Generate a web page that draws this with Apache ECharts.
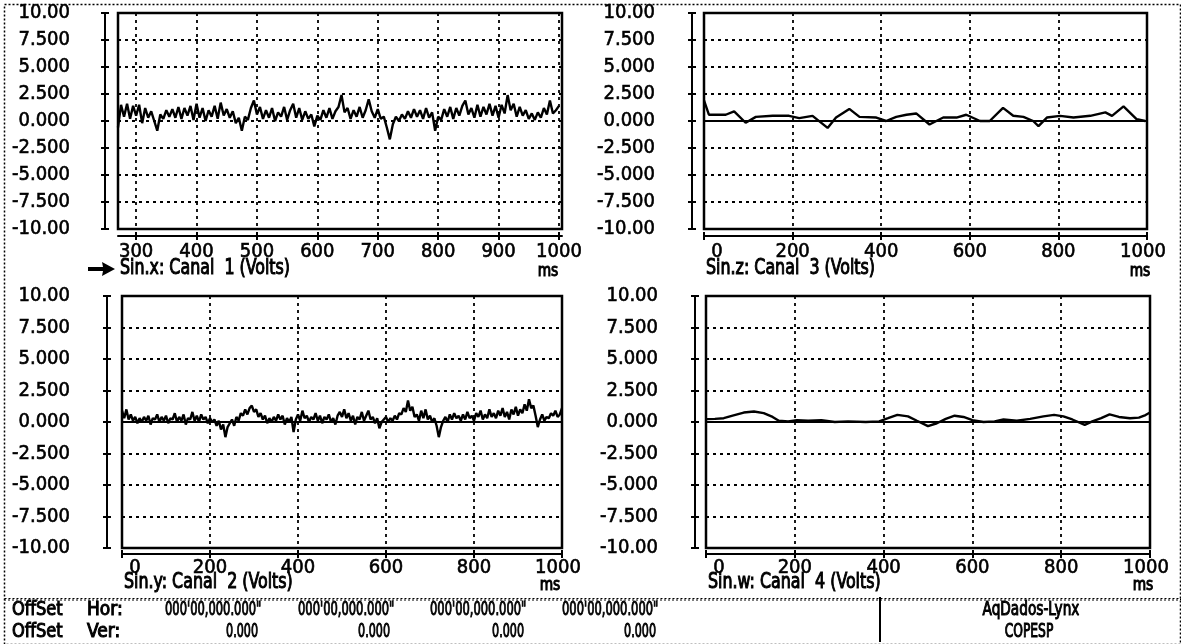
<!DOCTYPE html>
<html>
<head>
<meta charset="utf-8">
<script src="https://cdn.jsdelivr.net/npm/echarts@6/dist/echarts.min.js"></script>
<style>
  html, body { margin: 0; padding: 0; background: #fff; }
  #chart { width: 1181px; height: 644px; }
</style>
</head>
<body>
<div id="chart"></div>
<script>
// ---- acquisition data (Volts vs ms) ----
const voltTicks = [-10, -7.5, -5, -2.5, 0, 2.5, 5, 7.5, 10];
const voltTickLabels = ['-10.00', '-7.500', '-5.000', '-2.500', '0.000', '2.500', '5.000', '7.500', '10.00'];

const ch1Ticks = [300, 400, 500, 600, 700, 800, 900, 1000];
const fullTicks = [0, 200, 400, 600, 800, 1000];

// Channel 1: sampled every 5 ms from 270 ms
const ch1Start = 270, ch1Period = 5;
const ch1Values = [
  -0.6, 1.5, 0.4, 1.6, 0.2, 1.4, 0.5, 1.5, -0.2, 1.2,
  0.3, 0.9, 0.0, -0.9, 0.6, 0.2, 1.0, 0.4, 1.1, 0.3,
  1.3, 0.2, 1.2, 0.5, 1.4, 0.1, 1.6, 0.3, 1.2, 0.0,
  1.0, 0.4, 1.4, 0.2, 1.7, 0.5, 1.1, 0.3, 0.9, -0.2,
  0.3, -0.9, 0.4, 0.1, 1.2, 1.9, 0.6, 1.3, 0.2, 1.0,
  0.3, 1.2, 0.0, 0.8, 0.4, 1.3, 0.1, 1.0, 1.6, 0.3,
  1.2, 0.1, 0.9, 0.2, 0.6, -0.5, 0.5, 0.1, 1.0, 0.3,
  1.2, 0.2, 0.9, 1.3, 2.4, 0.8, 1.2, 0.2, 1.0, 0.4,
  1.3, 0.3, 1.0, 2.0, 0.9, 0.3, 1.1, 0.2, 0.4, -0.6,
  -1.7, -0.3, 0.4, 0.0, 0.6, 0.2, 0.9, 0.3, 1.1, 0.4,
  1.0, 0.2, 1.2, 0.3, 0.8, -0.9, 0.4, 0.1, 1.1, 0.4,
  1.3, 0.2, 1.2, 0.5, 1.4, 1.9, 0.6, 1.2, 0.3, 1.5,
  0.4, 1.3, 0.6, 1.6, 0.5, 1.4, 0.3, 1.5, 0.7, 2.4,
  1.0, 1.6, 0.4, 1.3, 0.5, 1.0, 0.2, 0.7, 0.1, 0.8,
  0.3, 1.2, 0.6, 1.9, 0.7, 1.0, 1.4
];

// Channel 2: sampled every 5 ms from 0 ms
const ch2Start = 0, ch2Period = 5;
const ch2Values = [
  0.9, 0.3, 1.0, 0.2, 0.6, 0.1, 0.4, -0.1, 0.3, 0.0,
  0.4, 0.1, 0.5, -0.2, 0.3, 0.2, 0.6, 0.0, 0.4, 0.1,
  0.5, -0.1, 0.3, 0.2, 0.7, 0.0, 0.4, 0.1, 0.6, -0.2,
  0.3, 0.2, 0.8, 0.1, 0.5, 0.0, 0.6, 0.2, 0.4, -0.1,
  0.3, 0.0, 0.2, -0.3, 0.1, -0.6, -0.2, -1.2, -0.4, -0.1,
  0.2, -0.3, 0.4, 0.1, 0.7, 0.5, 1.0, 0.6, 1.1, 1.3,
  0.8, 1.0, 0.4, 0.7, 0.2, 0.5, -0.1, 0.3, 0.0, 0.4,
  0.1, 0.6, 0.2, 0.5, -0.2, 0.3, 0.0, 0.4, -0.8, 0.2,
  0.6, 0.1, 0.9, 0.3, 0.5, 0.0, 0.4, 0.2, 0.7, 0.1,
  0.5, -0.1, 0.4, 0.2, 0.6, 0.0, 0.3, -0.2, 0.5, 0.8,
  0.4, 1.0, 0.3, 0.7, 0.1, 0.5, -0.2, 0.4, 0.2, 0.8,
  0.1, 0.5, 0.9, 0.2, 0.4, -0.1, 0.3, -0.5, 0.0, 0.2,
  0.4, 0.0, 0.3, 0.1, 0.5, 0.2, 0.7, 0.6, 1.1, 0.8,
  1.7, 0.9, 1.2, 0.4, 0.6, 0.1, 0.9, 0.3, 1.0, 0.2,
  0.5, 0.0, 0.3, -0.3, -1.2, -0.4, 0.1, 0.4, 0.0, 0.6,
  0.2, 0.7, 0.3, 0.5, 0.1, 0.6, 0.2, 0.8, 0.3, 0.5,
  0.1, 0.7, 0.4, 0.9, 0.2, 0.6, 0.3, 1.0, 0.4, 0.7,
  0.3, 0.9, 0.5, 1.1, 0.4, 0.8, 0.2, 1.0, 0.6, 1.2,
  0.5, 1.0, 0.7, 1.4, 0.9, 1.8, 1.1, 1.3, 0.5, -0.4,
  0.2, 0.6, 0.1, 0.4, 0.3, 0.7, 0.5, 0.9, 0.4, 0.6,
  1.1
];

// Channel 3: slow signal, breakpoints
const ch3Times = [0, 11, 49, 68, 94, 117, 155, 192, 215, 245, 279, 298, 328, 351, 389, 411, 434, 457, 479, 509,
  540, 570, 592, 623, 645, 675, 698, 721, 743, 755, 774, 804, 834, 872, 906, 921, 947, 977, 996];
const ch3Values = [1.9, 0.58, 0.58, 0.9, -0.16, 0.38, 0.48, 0.48, 0.26, 0.48, -0.64, 0.32, 1.12, 0.38, 0.32, 0.0, 0.38, 0.58, 0.7, -0.32,
  0.32, 0.32, 0.58, 0.0, 0.0, 1.22, 0.48, 0.38, 0.0, -0.48, 0.32, 0.48, 0.32, 0.48, 0.8, 0.48, 1.35, 0.16, 0.0];

// Channel 4: slow signal, breakpoints
const ch4Times = [0, 20, 40, 60, 85, 108, 130, 150, 164, 185, 205, 230, 260, 290, 320, 360, 390, 410, 431, 455,
  475, 500, 520, 540, 560, 580, 600, 625, 650, 670, 700, 730, 760, 784, 805, 825, 853, 870, 890, 909,
  930, 955, 975, 990, 1000];
const ch4Values = [0.23, 0.25, 0.3, 0.5, 0.75, 0.83, 0.7, 0.4, 0.1, 0.05, 0.15, 0.1, 0.15, 0.0, 0.05, 0.0, 0.05, 0.3, 0.57, 0.45,
  0.1, -0.33, -0.1, 0.25, 0.5, 0.4, 0.15, 0.0, 0.05, 0.2, 0.1, 0.25, 0.45, 0.57, 0.45, 0.2, -0.23, 0.05, 0.3, 0.6,
  0.4, 0.3, 0.35, 0.55, 0.75];

const captions = ['Sin.x: Canal  1 (Volts)', 'Sin.y: Canal  2 (Volts)', 'Sin.z: Canal  3 (Volts)', 'Sin.w: Canal  4 (Volts)'];
const timeUnit = 'ms';
const offsetHor = ["000'00,000.000\"", "000'00,000.000\"", "000'00,000.000\"", "000'00,000.000\""];
const offsetVer = ['0.000', '0.000', '0.000', '0.000'];
const programName = 'AqDados-Lynx';
const institution = 'COPESP';

// ---- helpers ----
const FONT = '"DejaVu Sans Condensed", "DejaVu Sans", sans-serif';
const INK = '#000';

function sampled(start, period, values) {
  return values.map((v, i) => [start + i * period, v]);
}
function paired(times, values) {
  return times.map((t, i) => [t, values[i]]);
}
function voltLabel(v) {
  const k = voltTicks.indexOf(v);
  return k >= 0 ? voltTickLabels[k] : '';
}

// panel layout: box, axis bar offsets, label margins, caption line
const panels = [
  { box: { left: 118, top: 13, width: 444, height: 216 }, yOff: 13, yMargin: 35, xOff: 7, xMargin: 6, xMin: 270, xMax: 1005, ticks: ch1Ticks, shift: false,
    data: sampled(ch1Start, ch1Period, ch1Values), zeroSolid: false, caption: captions[0], capY: 269, unitDx: 14, arrow: true },
  { box: { left: 122, top: 296, width: 440, height: 252 }, yOff: 15, yMargin: 37, xOff: 6, xMargin: 4, xMin: 0, xMax: 1000, ticks: fullTicks, shift: true,
    data: sampled(ch2Start, ch2Period, ch2Values), zeroSolid: true, caption: captions[1], capY: 583, unitDx: 12 },
  { box: { left: 704, top: 13, width: 443, height: 216 }, yOff: 12, yMargin: 37, xOff: 7, xMargin: 6, xMin: 0, xMax: 1000, ticks: fullTicks, shift: true,
    data: paired(ch3Times, ch3Values), zeroSolid: true, caption: captions[2], capY: 269, unitDx: 7 },
  { box: { left: 706, top: 296, width: 444, height: 252 }, yOff: 11, yMargin: 37, xOff: 6, xMargin: 4, xMin: 0, xMax: 1000, ticks: fullTicks, shift: true,
    data: paired(ch4Times, ch4Values), zeroSolid: true, caption: captions[3], capY: 583, unitDx: 7 }
];

const grid = [], xAxis = [], yAxis = [], series = [], graphic = [];
const dotted = { color: INK, width: 1.8, type: [3, 4] };
const labelFont = { color: INK, fontFamily: FONT, fontSize: 20, textBorderColor: INK, textBorderWidth: 0.6 };
const tickStyle = { color: INK, width: 2 };
const hiddenLine = { show: true, onZero: false, lineStyle: { color: INK, opacity: 0 } };

// narrow, heavy text drawn as a graphic element
function narrowText(x, y, text, size, sx, align) {
  return {
    type: 'text', x, y, scaleX: sx, scaleY: 1, originX: 0, originY: 0,
    style: { text, x: 0, y: 0, font: size + 'px ' + FONT, fill: INK, stroke: INK, lineWidth: 1,
      align: align || 'left', verticalAlign: 'middle' }
  };
}

panels.forEach((p, i) => {
  grid.push(Object.assign({ show: true, borderColor: INK, borderWidth: 2.5, backgroundColor: 'transparent' }, p.box));

  const xLabel = {
    show: true, margin: p.xMargin, customValues: p.ticks, ...labelFont,
    formatter: p.shift
      ? (v => (v === 0 ? '{z|0}' : v === 1000 ? '{e|1000}' : String(v)))
      : (v => String(v)),
    rich: { z: { ...labelFont, padding: [0, 0, 0, 26] }, e: { ...labelFont, padding: [0, 8, 0, 0] } }
  };
  // main x axis: bar below the box, outward ticks, labels, vertical grid
  xAxis.push({
    gridIndex: i, type: 'value', min: p.xMin, max: p.xMax, position: 'bottom', offset: p.xOff,
    axisLine: { show: true, onZero: false, lineStyle: { color: INK, width: 2 } },
    axisTick: { show: true, length: 4, customValues: p.ticks, lineStyle: tickStyle },
    axisLabel: xLabel,
    splitLine: { show: true, lineStyle: dotted }
  });
  // companion axis giving the inward half of each tick
  xAxis.push({
    gridIndex: i, type: 'value', min: p.xMin, max: p.xMax, position: 'bottom', offset: p.xOff,
    axisLine: hiddenLine,
    axisTick: { show: true, inside: true, length: 4, customValues: p.ticks, lineStyle: tickStyle },
    axisLabel: { show: false }, splitLine: { show: false }
  });
  // main y axis: bar left of the box
  yAxis.push({
    gridIndex: i, type: 'value', min: -10, max: 10, interval: 2.5, position: 'left', offset: p.yOff,
    axisLine: { show: true, onZero: false, lineStyle: { color: INK, width: 2 } },
    axisTick: { show: true, length: 4, lineStyle: tickStyle },
    axisLabel: { show: true, margin: p.yMargin, formatter: voltLabel, ...labelFont },
    splitLine: { show: true, lineStyle: dotted }
  });
  yAxis.push({
    gridIndex: i, type: 'value', min: -10, max: 10, interval: 2.5, position: 'left', offset: p.yOff,
    axisLine: hiddenLine,
    axisTick: { show: true, inside: true, length: 4, lineStyle: tickStyle },
    axisLabel: { show: false }, splitLine: { show: false }
  });

  const s = {
    type: 'line', xAxisIndex: 2 * i, yAxisIndex: 2 * i, data: p.data,
    showSymbol: false, symbol: 'none', clip: true, animation: false,
    lineStyle: { color: INK, width: 2.4 }
  };
  if (p.zeroSolid) {
    s.markLine = { silent: true, symbol: 'none', label: { show: false },
      lineStyle: { color: INK, width: 2, type: 'solid' }, data: [{ yAxis: 0 }] };
  }
  series.push(s);

  // caption under the time axis and the unit at the right end
  graphic.push(narrowText(p.box.left + 2, p.capY, p.caption, 21, 0.84, 'left'));
  graphic.push(narrowText(p.box.left + p.box.width - p.unitDx, p.capY + 3, timeUnit, 17, 0.9, 'center'));
  if (p.arrow) {
    // pointer marking the active channel
    const ax = p.box.left - 30, ay = p.capY;
    graphic.push({ type: 'polygon', x: 0, y: 0,
      shape: { points: [[ax, ay - 2], [ax + 15, ay - 2], [ax + 14, ay - 7], [ax + 27, ay], [ax + 14, ay + 7], [ax + 15, ay + 2], [ax, ay + 2]] },
      style: { fill: INK } });
  }
});

// page frame and status bar
graphic.push({ type: 'rect', left: 2, top: 2, shape: { width: 1176, height: 640 },
  style: { fill: 'none', stroke: INK, lineWidth: 1.5, lineDash: [2, 2] } });
graphic.push({ type: 'rect', left: 2, top: 596, shape: { width: 1176, height: 1.5 },
  style: { fill: 'none', stroke: INK, lineWidth: 1, lineDash: [2, 2] } });
graphic.push({ type: 'rect', left: 879, top: 597, shape: { width: 2, height: 45 },
  style: { fill: INK } });

const rowHor = 610, rowVer = 632;
graphic.push(narrowText(12, rowHor, 'OffSet', 19, 0.95, 'left'));
graphic.push(narrowText(87, rowHor, 'Hor:', 19, 1.0, 'left'));
graphic.push(narrowText(12, rowVer, 'OffSet', 19, 0.95, 'left'));
graphic.push(narrowText(87, rowVer, 'Ver:', 19, 1.0, 'left'));
const horX = [165, 298, 430, 562];
const verRight = [258, 390, 524, 656];
offsetHor.forEach((t, k) => graphic.push(narrowText(horX[k], rowHor, t, 20, 0.64, 'left')));
offsetVer.forEach((t, k) => graphic.push(narrowText(verRight[k], rowVer, t, 20, 0.62, 'right')));
graphic.push(narrowText(1031, rowHor, programName, 19, 0.8, 'center'));
graphic.push(narrowText(1029, rowVer, institution, 19, 0.72, 'center'));

const chart = echarts.init(document.getElementById('chart'), null, { renderer: 'canvas' });
chart.setOption({
  animation: false,
  backgroundColor: '#fff',
  grid, xAxis, yAxis, series, graphic
});
</script>
</body>
</html>
